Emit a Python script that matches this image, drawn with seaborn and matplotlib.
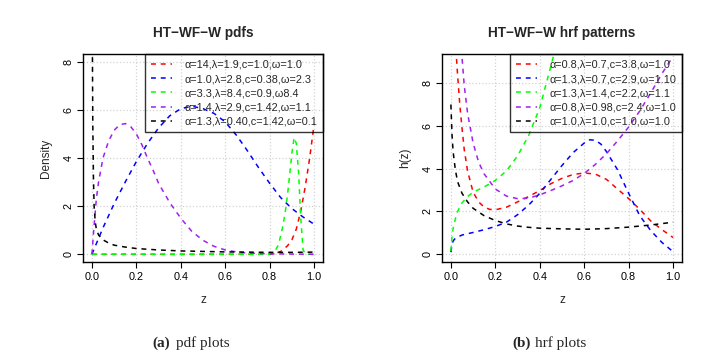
import matplotlib
matplotlib.use("Agg")
import matplotlib.pyplot as plt
import seaborn as sns

# ---- pdf panel ----
pdf_red_x = [0.0, 0.2, 0.4, 0.6, 0.8, 0.82, 0.85, 0.88, 0.9, 0.92, 0.94, 0.96, 0.98, 1.0]
pdf_red_y = [0.0, 0.0, 0.0, 0.0, 0.0, 0.02, 0.12, 0.35, 0.6, 1.05, 1.8, 2.8, 4.0, 5.4]

pdf_blue_x = [0.0, 0.05, 0.1, 0.15, 0.2, 0.25, 0.3, 0.35, 0.4, 0.45, 0.5, 0.55, 0.6,
              0.65, 0.7, 0.75, 0.8, 0.85, 0.9, 0.95, 1.0]
pdf_blue_y = [0.0, 1.1, 2.1, 3.0, 3.85, 4.6, 5.25, 5.75, 6.05, 6.15, 6.05, 5.85, 5.5,
              4.95, 4.3, 3.6, 2.95, 2.35, 1.9, 1.55, 1.25]

pdf_green_x = [0.0, 0.2, 0.4, 0.6, 0.8, 0.82, 0.84, 0.86, 0.87, 0.88, 0.89, 0.9, 0.91,
               0.92, 0.93, 0.94, 0.95, 0.96, 1.0]
pdf_green_y = [0.0, 0.0, 0.0, 0.0, 0.0, 0.08, 0.4, 1.2, 1.75, 2.45, 3.3, 4.2, 4.85,
               4.6, 3.4, 1.5, 0.2, 0.0, 0.0]

pdf_purple_x = [0.0, 0.01, 0.02, 0.03, 0.05, 0.075, 0.1, 0.125, 0.15, 0.175, 0.2, 0.225,
                0.25, 0.275, 0.3, 0.35, 0.4, 0.45, 0.5, 0.55, 0.6, 0.65, 0.7, 0.8, 0.9, 1.0]
pdf_purple_y = [0.0, 1.2, 2.3, 3.0, 4.0, 4.7, 5.15, 5.38, 5.43, 5.3, 5.0, 4.55,
                4.0, 3.5, 2.95, 2.15, 1.5, 0.95, 0.58, 0.33, 0.18, 0.1, 0.05, 0.02, 0.01, 0.0]

pdf_black_x = [0.002, 0.004, 0.007, 0.01, 0.015, 0.02, 0.03, 0.05, 0.075, 0.1, 0.15, 0.2,
               0.3, 0.4, 0.5, 0.6, 0.7, 0.8, 0.9, 1.0]
pdf_black_y = [9.0, 5.5, 3.2, 2.0, 1.35, 1.05, 0.8, 0.6, 0.47, 0.38, 0.3, 0.24,
               0.18, 0.14, 0.12, 0.1, 0.09, 0.08, 0.08, 0.09]

pdf_labels = ["α=14,λ=1.9,c=1.0,ω=1.0",
              "α=1.0,λ=2.8,c=0.38,ω=2.3",
              "α=3.3,λ=8.4,c=0.9,ω8.4",
              "α=1.4,λ=2.9,c=1.42,ω=1.1",
              "α=1.3,λ=0.40,c=1.42,ω=0.1"]

# ---- hrf panel ----
hrf_red_x = [0.02, 0.025, 0.03, 0.04, 0.05, 0.06, 0.075, 0.1, 0.125, 0.15, 0.175, 0.2,
             0.25, 0.3, 0.35, 0.4, 0.45, 0.5, 0.55, 0.6, 0.65, 0.7, 0.75, 0.8, 0.85,
             0.9, 0.95, 1.0]
hrf_red_y = [10.5, 9.2, 8.4, 7.0, 5.9, 4.9, 3.9, 2.9, 2.45, 2.2, 2.1, 2.08,
             2.2, 2.45, 2.7, 2.98, 3.3, 3.55, 3.73, 3.8, 3.75, 3.5, 3.05, 2.6, 2.1,
             1.55, 1.15, 0.78]

hrf_blue_x = [0.0, 0.005, 0.01, 0.02, 0.05, 0.1, 0.15, 0.2, 0.25, 0.3, 0.35, 0.4, 0.45,
              0.5, 0.55, 0.6, 0.625, 0.65, 0.675, 0.7, 0.75, 0.8, 0.85, 0.9, 0.95, 1.0]
hrf_blue_y = [0.1, 0.45, 0.62, 0.75, 0.9, 1.02, 1.15, 1.3, 1.5, 1.85, 2.3, 2.85, 3.5,
              4.15, 4.75, 5.2, 5.35, 5.33, 5.15, 4.8, 3.95, 2.85, 1.8, 1.1, 0.55, 0.12]

hrf_green_x = [0.0, 0.005, 0.01, 0.02, 0.03, 0.05, 0.075, 0.1, 0.15, 0.2, 0.25, 0.3,
               0.35, 0.4, 0.45, 0.5]
hrf_green_y = [0.15, 0.8, 1.2, 1.65, 2.0, 2.4, 2.7, 2.9, 3.15, 3.45, 3.9, 4.6,
               5.55, 6.85, 8.8, 10.8]

hrf_purple_x = [0.045, 0.05, 0.06, 0.075, 0.1, 0.125, 0.15, 0.2, 0.25, 0.3, 0.35, 0.4,
                0.45, 0.5, 0.55, 0.6, 0.65, 0.7, 0.75, 0.8, 0.85, 0.9, 0.95, 1.0]
hrf_purple_y = [10.5, 9.2, 7.9, 6.6, 5.2, 4.3, 3.75, 3.05, 2.72, 2.6, 2.62, 2.78,
                2.98, 3.2, 3.45, 3.78, 4.2, 4.7, 5.3, 5.95, 6.7, 7.55, 8.45, 9.25]

hrf_black_x = [0.0, 0.005, 0.01, 0.02, 0.03, 0.05, 0.075, 0.1, 0.15, 0.2, 0.25, 0.3,
               0.35, 0.4, 0.5, 0.6, 0.7, 0.8, 0.9, 1.0]
hrf_black_y = [7.0, 5.6, 4.8, 3.95, 3.4, 2.85, 2.45, 2.15, 1.8, 1.58, 1.42, 1.32,
               1.26, 1.22, 1.19, 1.17, 1.2, 1.27, 1.37, 1.5]

hrf_labels = ["α=0.8,λ=0.7,c=3.8,ω=1.0",
              "α=1.3,λ=0.7,c=2.9,ω=1.10",
              "α=1.3,λ=1.4,c=2.2,ω=1.1",
              "α=0.8,λ=0.98,c=2.4,ω=1.0",
              "α=1.0,λ=1.0,c=1.0,ω=1.0"]

colors = ["#FF0000", "#0000FF", "#00FF00", "#A020F0", "#000000"]

sns.set_style("white")
plt.rcParams["font.family"] = ["Liberation Sans", "DejaVu Sans"]

fig = plt.figure(figsize=(7.15, 3.61), dpi=100)
ax1 = fig.add_axes([83 / 715, 99 / 361, 240 / 715, 208 / 361])
ax2 = fig.add_axes([442 / 715, 99 / 361, 240 / 715, 208 / 361])

dash = (0, (3.2, 3.2))

pdf_series = [(pdf_red_x, pdf_red_y), (pdf_blue_x, pdf_blue_y), (pdf_green_x, pdf_green_y),
              (pdf_purple_x, pdf_purple_y), (pdf_black_x, pdf_black_y)]
hrf_series = [(hrf_red_x, hrf_red_y), (hrf_blue_x, hrf_blue_y), (hrf_green_x, hrf_green_y),
              (hrf_purple_x, hrf_purple_y), (hrf_black_x, hrf_black_y)]


def style_axis(ax, ymax, ylabel, title):
    ax.set_xlim(-0.04, 1.04)
    ax.set_ylim(-0.04 * ymax, 1.04 * ymax)
    ax.set_xticks([0, 0.2, 0.4, 0.6, 0.8, 1.0])
    ax.set_xticklabels(["0.0", "0.2", "0.4", "0.6", "0.8", "1.0"])
    ax.set_yticks([0, 2, 4, 6, 8])
    ax.set_yticklabels(["0", "2", "4", "6", "8"], rotation=90, va="center")
    ax.grid(True, color="lightgray", linestyle=":", linewidth=0.9)
    ax.set_axisbelow(True)
    for s in ax.spines.values():
        s.set_color("black")
        s.set_linewidth(1.0)
    ax.tick_params(axis="both", which="both", direction="out", length=4, width=0.8,
                   labelsize=7.8, left=True, bottom=True, colors="black", pad=3)
    ax.set_xlabel("z", fontsize=8.5, labelpad=9)
    ax.set_ylabel(ylabel, fontsize=8.5, labelpad=8)
    ax.set_title(title, fontsize=9.8, fontweight="bold", pad=12)


for ax, series, labels in [(ax1, pdf_series, pdf_labels), (ax2, hrf_series, hrf_labels)]:
    for (xs, ys), c, lab in zip(series, colors, labels):
        sns.lineplot(x=xs, y=ys, ax=ax, color=c, linestyle=dash, linewidth=1.1,
                     label=lab, sort=False, estimator=None)

style_axis(ax1, 8, "Density", "HT−WF−W pdfs")
style_axis(ax2, 9, "h(z)", "HT−WF−W hrf patterns")

for ax in (ax1, ax2):
    leg = ax.legend(loc="upper right", bbox_to_anchor=(1, 1), borderaxespad=0,
                    fontsize=7.8, frameon=True, fancybox=False, handlelength=2.0,
                    handletextpad=1.1, labelspacing=0.38, borderpad=0.55)
    leg.get_frame().set_edgecolor("black")
    leg.get_frame().set_linewidth(1.0)
    leg.get_frame().set_facecolor("none")

fig.text(152 / 715, 1 - 343 / 361, "(a)", fontsize=11, fontweight="bold",
         family="Liberation Serif", ha="left", va="center")
fig.text(176 / 715, 1 - 343 / 361, "pdf plots", fontsize=11,
         family="Liberation Serif", ha="left", va="center")
fig.text(512 / 715, 1 - 343 / 361, "(b)", fontsize=11, fontweight="bold",
         family="Liberation Serif", ha="left", va="center")
fig.text(535 / 715, 1 - 343 / 361, "hrf plots", fontsize=11,
         family="Liberation Serif", ha="left", va="center")

fig.savefig("out.png", dpi=100, facecolor="white")
